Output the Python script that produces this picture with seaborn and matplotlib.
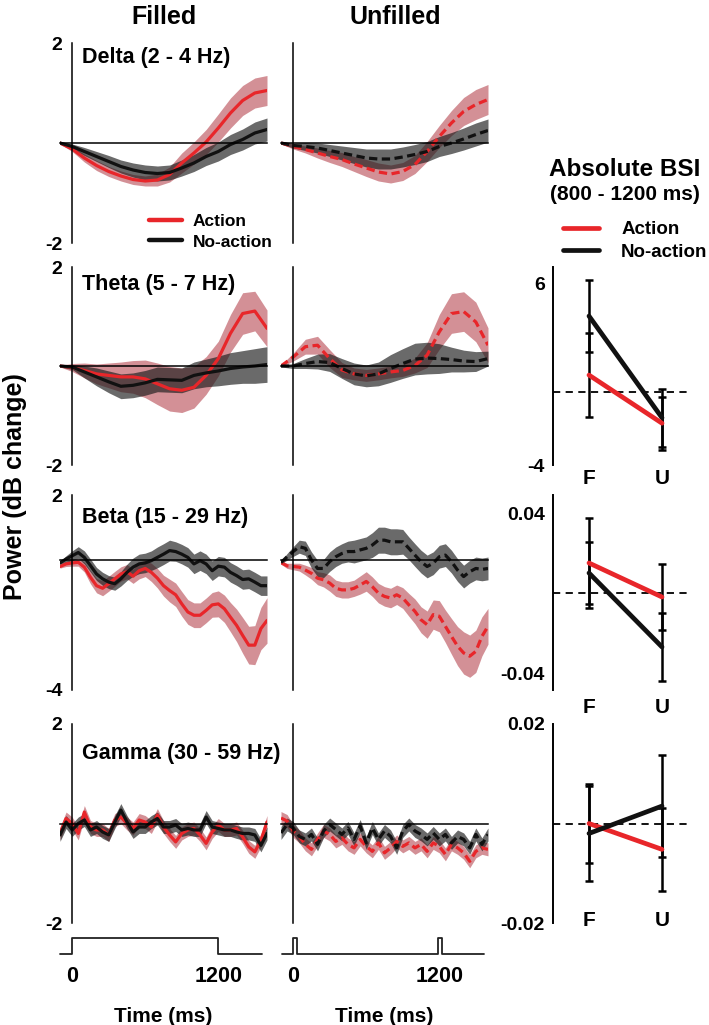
import numpy as np
import pandas as pd
import seaborn as sns
import matplotlib.pyplot as plt

sns.set_theme(style="white")
plt.rcParams['font.family'] = ['Liberation Sans', 'DejaVu Sans']
plt.rcParams['font.weight'] = 'bold'
plt.rcParams['axes.edgecolor'] = 'black'
plt.rcParams['text.color'] = 'black'
plt.rcParams['xtick.color'] = 'black'
plt.rcParams['ytick.color'] = 'black'
plt.rcParams['axes.labelcolor'] = 'black'

RED = '#e8262a'
BLACK = '#111111'
RED_BAND = '#a8222e'
GRAY_BAND = '#1a1a1a'

# time grids (ms)
t_slow = np.arange(-100, 1601, 100)
t_fast = np.arange(-100, 1601, 50)

# ---- Delta (2 - 4 Hz)
delta_f_act = [0.0, -0.12, -0.3, -0.45, -0.57, -0.66, -0.73, -0.76, -0.74, -0.63, -0.4, -0.2, 0.02, 0.3, 0.6, 0.85, 1.0, 1.05]
delta_f_act_se = [0.02, 0.05, 0.08, 0.1, 0.1, 0.1, 0.1, 0.1, 0.12, 0.15, 0.2, 0.22, 0.25, 0.28, 0.3, 0.3, 0.3, 0.3]
delta_f_no = [0.0, -0.07, -0.17, -0.27, -0.37, -0.47, -0.54, -0.59, -0.61, -0.59, -0.5, -0.4, -0.27, -0.17, -0.03, 0.07, 0.2, 0.27]
delta_f_no_se = [0.02, 0.05, 0.08, 0.1, 0.12, 0.13, 0.14, 0.15, 0.15, 0.15, 0.16, 0.17, 0.18, 0.19, 0.2, 0.21, 0.22, 0.23]
delta_u_act = [0.0, -0.07, -0.13, -0.2, -0.27, -0.33, -0.42, -0.5, -0.58, -0.62, -0.57, -0.43, -0.17, 0.13, 0.4, 0.63, 0.77, 0.87]
delta_u_act_se = [0.02, 0.05, 0.07, 0.1, 0.12, 0.14, 0.15, 0.17, 0.18, 0.18, 0.18, 0.18, 0.2, 0.22, 0.25, 0.28, 0.3, 0.3]
delta_u_no = [0.0, -0.05, -0.07, -0.1, -0.15, -0.2, -0.25, -0.3, -0.32, -0.32, -0.28, -0.23, -0.17, -0.07, 0.0, 0.08, 0.17, 0.25]
delta_u_no_se = [0.02, 0.05, 0.08, 0.1, 0.12, 0.14, 0.16, 0.18, 0.2, 0.2, 0.2, 0.2, 0.2, 0.2, 0.21, 0.22, 0.23, 0.23]

# ---- Theta (5 - 7 Hz)
theta_f_act = [0.0, -0.03, -0.09, -0.16, -0.19, -0.22, -0.22, -0.26, -0.36, -0.46, -0.49, -0.43, -0.19, 0.15, 0.66, 1.06, 1.11, 0.76]
theta_f_act_se = [0.02, 0.08, 0.15, 0.2, 0.25, 0.3, 0.33, 0.38, 0.42, 0.45, 0.45, 0.42, 0.38, 0.35, 0.38, 0.42, 0.4, 0.37]
theta_f_no = [0.0, -0.02, -0.12, -0.22, -0.32, -0.41, -0.39, -0.34, -0.27, -0.28, -0.29, -0.19, -0.14, -0.1, -0.05, -0.02, 0.0, 0.03]
theta_f_no_se = [0.02, 0.05, 0.12, 0.18, 0.22, 0.25, 0.25, 0.25, 0.25, 0.25, 0.25, 0.27, 0.28, 0.3, 0.32, 0.33, 0.35, 0.36]
theta_u_act = [0.0, 0.18, 0.39, 0.42, 0.15, -0.08, -0.16, -0.19, -0.16, -0.12, -0.09, 0.01, 0.22, 0.69, 1.06, 1.1, 0.89, 0.42]
theta_u_act_se = [0.02, 0.08, 0.15, 0.18, 0.18, 0.15, 0.12, 0.12, 0.12, 0.12, 0.12, 0.15, 0.25, 0.35, 0.4, 0.4, 0.4, 0.35]
theta_u_no = [0.0, 0.0, 0.05, 0.09, 0.07, -0.05, -0.16, -0.2, -0.16, -0.05, 0.05, 0.14, 0.16, 0.15, 0.13, 0.1, 0.09, 0.15]
theta_u_no_se = [0.02, 0.05, 0.1, 0.15, 0.18, 0.2, 0.22, 0.22, 0.24, 0.28, 0.3, 0.32, 0.32, 0.3, 0.25, 0.22, 0.2, 0.15]

# ---- Beta (15 - 29 Hz)
beta_f_act = [-0.2, -0.12, -0.09, -0.07, -0.22, -0.53, -0.79, -0.87, -0.73, -0.58, -0.43, -0.36, -0.5, -0.33, -0.26, -0.38, -0.56, -0.79,
              -0.94, -1.07, -1.35, -1.6, -1.7, -1.7, -1.55, -1.38, -1.35, -1.5, -1.76, -2.01, -2.32, -2.62, -2.62, -2.11, -1.86]
beta_f_act_se = [0.05, 0.08, 0.1, 0.12, 0.15, 0.2, 0.22, 0.23, 0.23, 0.23, 0.22, 0.22, 0.22, 0.25, 0.25, 0.28, 0.3, 0.32,
                 0.35, 0.36, 0.38, 0.38, 0.38, 0.38, 0.38, 0.38, 0.4, 0.42, 0.45, 0.5, 0.55, 0.58, 0.6, 0.65, 0.7]
beta_f_no = [-0.09, 0.03, 0.13, 0.23, 0.08, -0.17, -0.43, -0.58, -0.68, -0.73, -0.58, -0.38, -0.22, -0.12, -0.09, -0.02, 0.08, 0.18,
             0.29, 0.26, 0.18, 0.08, -0.12, -0.02, -0.12, -0.33, -0.19, -0.22, -0.38, -0.48, -0.6, -0.58, -0.68, -0.79, -0.79]
beta_f_no_se = [0.05, 0.1, 0.15, 0.18, 0.2, 0.2, 0.2, 0.2, 0.2, 0.2, 0.22, 0.25, 0.28, 0.3, 0.3, 0.3, 0.32, 0.32,
                0.32, 0.3, 0.3, 0.3, 0.3, 0.3, 0.3, 0.3, 0.3, 0.3, 0.3, 0.3, 0.3, 0.3, 0.3, 0.3, 0.3]
beta_u_act = [-0.08, -0.18, -0.2, -0.22, -0.31, -0.41, -0.56, -0.61, -0.71, -0.87, -0.92, -0.92, -0.87, -0.77, -0.66, -0.82, -1.02, -1.12,
              -1.17, -1.07, -1.17, -1.38, -1.58, -1.84, -1.99, -1.68, -1.73, -2.04, -2.35, -2.65, -2.86, -2.96, -2.81, -2.35, -2.04]
beta_u_act_se = [0.05, 0.08, 0.1, 0.12, 0.15, 0.18, 0.2, 0.22, 0.25, 0.25, 0.25, 0.25, 0.25, 0.28, 0.3, 0.3, 0.3, 0.3,
                 0.3, 0.3, 0.32, 0.35, 0.38, 0.4, 0.42, 0.45, 0.48, 0.5, 0.55, 0.6, 0.65, 0.65, 0.65, 0.6, 0.55]
beta_u_no = [-0.08, 0.1, 0.26, 0.41, 0.36, 0.0, -0.26, -0.26, -0.05, 0.1, 0.2, 0.26, 0.26, 0.31, 0.36, 0.46, 0.61, 0.61,
             0.56, 0.56, 0.56, 0.36, 0.15, -0.05, -0.2, -0.1, 0.1, 0.15, -0.05, -0.31, -0.51, -0.36, -0.26, -0.29, -0.26]
beta_u_no_se = [0.05, 0.1, 0.15, 0.2, 0.22, 0.25, 0.25, 0.28, 0.3, 0.3, 0.3, 0.32, 0.35, 0.35, 0.35, 0.38, 0.4, 0.4,
                0.4, 0.4, 0.38, 0.35, 0.35, 0.35, 0.35, 0.35, 0.35, 0.35, 0.35, 0.35, 0.35, 0.35, 0.35, 0.35, 0.35]

# ---- Gamma (30 - 59 Hz)
gamma_f_act = [-0.2, 0.1, 0.0, -0.2, 0.23, -0.07, -0.13, -0.13, -0.23, 0.07, 0.13, 0.0, -0.1, 0.07, 0.03, -0.07, 0.17, -0.07,
               -0.23, -0.37, -0.2, -0.13, -0.1, -0.23, -0.4, -0.17, -0.03, -0.13, -0.13, -0.1, -0.27, -0.47, -0.57, -0.34, 0.03]
gamma_f_no = [-0.23, 0.03, -0.13, 0.0, 0.07, -0.13, -0.07, -0.17, -0.23, 0.03, 0.27, 0.03, -0.17, -0.07, -0.07, 0.03, 0.1, -0.07,
              -0.07, -0.03, -0.13, -0.1, -0.13, -0.13, 0.13, -0.07, -0.1, -0.13, -0.13, -0.17, -0.2, -0.2, -0.23, -0.44, -0.2]
gamma_u_act = [0.11, 0.05, -0.15, -0.26, -0.42, -0.52, -0.32, -0.15, -0.22, -0.36, -0.29, -0.42, -0.49, -0.32, -0.46, -0.56, -0.39, -0.59,
               -0.49, -0.36, -0.46, -0.39, -0.49, -0.42, -0.56, -0.39, -0.46, -0.62, -0.42, -0.49, -0.59, -0.76, -0.56, -0.49, -0.52]
gamma_u_no = [-0.19, -0.02, -0.09, -0.26, -0.32, -0.22, -0.42, -0.15, -0.02, -0.12, -0.22, -0.09, -0.32, -0.05, -0.39, -0.09, -0.32, -0.15,
              -0.26, -0.49, -0.15, -0.02, -0.15, -0.22, -0.32, -0.19, -0.32, -0.22, -0.39, -0.26, -0.32, -0.49, -0.22, -0.42, -0.22]
gamma_se = 0.13

# ---- Absolute BSI (800 - 1200 ms), F = filled, U = unfilled
conds = ['F', 'U']
theta_bsi_act = [0.95, -1.7]
theta_bsi_act_err = [2.3, 1.45]
theta_bsi_no = [4.2, -1.4]
theta_bsi_no_err = [2.0, 1.6]
beta_bsi_act = [0.015, -0.002]
beta_bsi_act_err = [0.0225, 0.0165]
beta_bsi_no = [0.010, -0.027]
beta_bsi_no_err = [0.0155, 0.017]
gamma_bsi_act = [0.0, -0.0052]
gamma_bsi_act_err = [0.008, 0.0083]
gamma_bsi_no = [-0.002, 0.0035]
gamma_bsi_no_err = [0.0095, 0.0102]

# ---- stimulus timelines
stim_f_t = [-100, 0, 0, 1200, 1200, 1560]
stim_f_y = [0, 0, 1, 1, 0, 0]
stim_u_t = [-90, 0, 0, 35, 35, 1190, 1190, 1225, 1225, 1570]
stim_u_y = [0, 0, 1, 1, 0, 0, 1, 1, 0, 0]

band_names = ['Delta (2 - 4 Hz)', 'Theta (5 - 7 Hz)', 'Beta (15 - 29 Hz)', 'Gamma (30 - 59 Hz)']
ylims = [(-2, 2), (-2, 2), (-4, 2), (-2, 2)]
ystep = [0.5, 0.5, 1, 0.5]

traces = [
    (t_slow, delta_f_act, delta_f_act_se, delta_f_no, delta_f_no_se, delta_u_act, delta_u_act_se, delta_u_no, delta_u_no_se),
    (t_slow, theta_f_act, theta_f_act_se, theta_f_no, theta_f_no_se, theta_u_act, theta_u_act_se, theta_u_no, theta_u_no_se),
    (t_fast, beta_f_act, beta_f_act_se, beta_f_no, beta_f_no_se, beta_u_act, beta_u_act_se, beta_u_no, beta_u_no_se),
    (t_fast, gamma_f_act, gamma_se, gamma_f_no, gamma_se, gamma_u_act, gamma_se, gamma_u_no, gamma_se),
]

W, H = 709, 1025
fig = plt.figure(figsize=(W / 100, H / 100), dpi=100)


def box(x0, x1, y0, y1):
    # pixel box -> figure fraction
    return [x0 / W, 1 - y1 / H, (x1 - x0) / W, (y1 - y0) / H]


row_px = [(43, 243), (267, 465), (495, 690), (724, 923)]
col_px = [(60, 267), (281, 488)]
label_y = [0.925, 0.91, 0.885, 0.85]
DASH = (0, (2.6, 1.4))


def draw_trace(ax, t, mean, se, color, band, alpha, dashed, label=None):
    m = np.asarray(mean, dtype=float)
    s = np.broadcast_to(np.asarray(se, dtype=float), m.shape)
    ax.fill_between(t, m - s, m + s, color=band, alpha=alpha, lw=0)
    sns.lineplot(x=t, y=m, ax=ax, color=color, lw=2.3, linestyle=DASH if dashed else '-', label=label, legend=False)


legend_ax = None
for r in range(4):
    t, fa, fas, fn, fns, ua, uas, un, uns = traces[r]
    lo, hi = ylims[r]
    for c in range(2):
        ax = fig.add_axes(box(col_px[c][0], col_px[c][1], *row_px[r]))
        act, act_se, no, no_se = (fa, fas, fn, fns) if c == 0 else (ua, uas, un, uns)
        dashed = c == 1
        lab = (r == 0 and c == 0)
        draw_trace(ax, t, act, act_se, RED, RED_BAND, 0.5, dashed, 'Action' if lab else None)
        draw_trace(ax, t, no, no_se, BLACK, GRAY_BAND, 0.65, dashed, 'No-action' if lab else None)
        ax.set_xlim(-100, 1600)
        ax.set_ylim(lo, hi)
        for s in ['top', 'right']:
            ax.spines[s].set_visible(False)
        ax.spines['left'].set_position(('data', 0))
        ax.spines['bottom'].set_position(('data', 0))
        ax.spines['left'].set_linewidth(1.1)
        ax.spines['bottom'].set_linewidth(1.1)
        yt = np.arange(lo, hi + 0.001, ystep[r])
        ax.set_yticks(yt)
        if c == 0:
            ax.set_yticklabels([f'{v:g}' if v in (lo, hi) else '' for v in yt], fontsize=14, fontweight='bold')
        else:
            ax.set_yticklabels([])
        ax.set_xticks(np.arange(0, 1601, 200))
        ax.set_xticklabels([])
        ax.tick_params(direction='in', length=3, width=1, pad=7)
        ax.set_xlabel('')
        ax.set_ylabel('')
        ax.patch.set_alpha(0)
        if c == 0:
            ax.text(0.105, label_y[r], band_names[r], transform=ax.transAxes, fontsize=15.5,
                    fontweight='bold', va='center', ha='left')
        if lab:
            legend_ax = ax

# legend in Delta / Filled
handles, labels = legend_ax.get_legend_handles_labels()
leg = legend_ax.legend(handles, labels, loc='upper left', bbox_to_anchor=(0.43, 0.145), frameon=False,
                       handlelength=1.9, handletextpad=0.6, labelspacing=0.3, borderpad=0,
                       borderaxespad=0, prop={'weight': 'bold', 'size': 12.5})
for h in leg.legend_handles:
    h.set_linewidth(3.2)

# column headers
fig.text(164 / W, 1 - 17 / H, 'Filled', ha='center', va='center', fontsize=18, fontweight='bold')
fig.text(395 / W, 1 - 17 / H, 'Unfilled', ha='center', va='center', fontsize=18, fontweight='bold')
fig.text(15 / W, 1 - 487 / H, 'Power (dB change)', ha='center', va='center', rotation=90,
         fontsize=18, fontweight='bold')

# stimulus timelines
for c, (st, sy) in enumerate([(stim_f_t, stim_f_y), (stim_u_t, stim_u_y)]):
    ax = fig.add_axes(box(col_px[c][0], col_px[c][1], 938, 954))
    sns.lineplot(x=st, y=sy, ax=ax, color='#222222', lw=1.3, sort=False, estimator=None)
    for line in ax.lines:
        line.set_clip_on(False)
    ax.set_xlim(-100, 1600)
    ax.set_ylim(0, 1)
    for s in ax.spines.values():
        s.set_visible(False)
    ax.set_yticks([])
    ax.set_xticks([0, 1200])
    ax.set_xticklabels(['0', '1200'], fontsize=15.5, fontweight='bold')
    ax.tick_params(axis='x', length=0, pad=9)
    ax.set_xlabel('Time (ms)', fontsize=15, fontweight='bold', labelpad=14)
    ax.set_ylabel('')
    ax.patch.set_alpha(0)

# right column: Absolute BSI
x_pos = [0, 1]
bsi = [
    (theta_bsi_act, theta_bsi_act_err, theta_bsi_no, theta_bsi_no_err, (-4, 6.9), [-4, -2, 0, 2, 4, 6], 3),
    (beta_bsi_act, beta_bsi_act_err, beta_bsi_no, beta_bsi_no_err, (-0.0485, 0.049), [-0.04, -0.02, 0, 0.02, 0.04], 6),
    (gamma_bsi_act, gamma_bsi_act_err, gamma_bsi_no, gamma_bsi_no_err, (-0.02, 0.02), [-0.02, -0.01, 0, 0.01, 0.02], -9),
]
for i, (a, ae, n, ne, yl, yt, xpad) in enumerate(bsi):
    r = i + 1
    ax = fig.add_axes(box(553, 688, *row_px[r]))
    ax.axhline(0, color='black', lw=1.3, linestyle=(0, (4, 3)), zorder=1)
    ax.errorbar(x_pos, n, yerr=ne, fmt='none', ecolor='black', elinewidth=1.8, capsize=3, capthick=1.8, zorder=2)
    ax.errorbar(x_pos, a, yerr=ae, fmt='none', ecolor='black', elinewidth=1.8, capsize=3, capthick=1.8, zorder=2)
    order = [(n, BLACK), (a, RED)] if r < 3 else [(a, RED), (n, BLACK)]
    for k, (vals, col) in enumerate(order):
        sns.lineplot(x=x_pos, y=vals, ax=ax, color=col, lw=3.4, zorder=3 + k)
    ax.set_xlim(-0.493, 1.356)
    ax.set_ylim(*yl)
    for s in ['top', 'right', 'bottom']:
        ax.spines[s].set_visible(False)
    ax.spines['left'].set_linewidth(1.4)
    ax.set_yticks(yt)
    ax.set_yticklabels([f'{v:g}' if v in (yt[0], yt[-1]) else '' for v in yt], fontsize=14, fontweight='bold')
    ax.set_xticks(x_pos)
    ax.set_xticklabels(conds, fontsize=15, fontweight='bold')
    ax.tick_params(axis='y', direction='out', length=4, width=1.2, pad=2)
    ax.tick_params(axis='x', length=0, pad=xpad)
    ax.set_xlabel('')
    ax.set_ylabel('')
    ax.patch.set_alpha(0)

fig.text(625 / W, 1 - 170 / H, 'Absolute BSI', ha='center', va='center', fontsize=17.5, fontweight='bold')
fig.text(625 / W, 1 - 195 / H, '(800 - 1200 ms)', ha='center', va='center', fontsize=15, fontweight='bold')
fig.legend(handles, labels, loc='upper left', bbox_to_anchor=(563 / W, 1 - 221 / H), frameon=False,
           handlelength=1.9, handletextpad=1.2, labelspacing=0.3, borderpad=0, borderaxespad=0,
           prop={'weight': 'bold', 'size': 13.5})
for h in fig.legends[0].legend_handles:
    h.set_linewidth(3.4)

fig.savefig('out.png', dpi=100)
